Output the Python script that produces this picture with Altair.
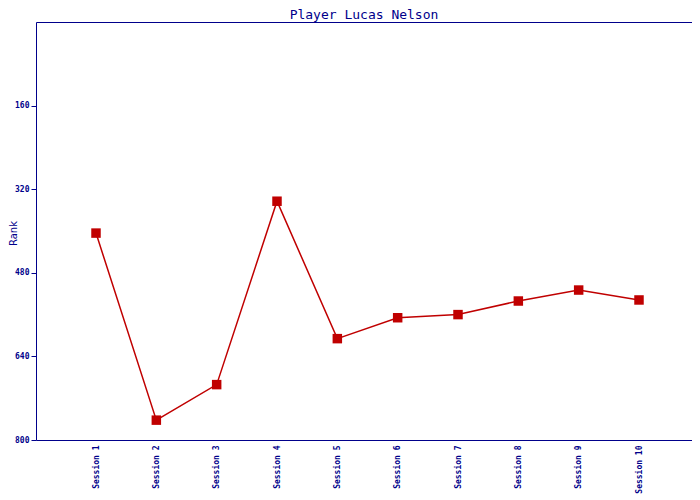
import altair as alt
import pandas as pd

sessions = ["Session 1", "Session 2", "Session 3", "Session 4", "Session 5",
            "Session 6", "Session 7", "Session 8", "Session 9", "Session 10"]
ranks = [404, 762, 694, 343, 606, 566, 560, 534, 513, 532]
y_ticks = [160, 320, 480, 640, 800]

df = pd.DataFrame({"session": sessions, "rank": ranks})

navy = "#00008b"
red = "#c00000"
mono = "DejaVu Sans Mono"

x = alt.X("session:N", sort=sessions, title=None,
          scale=alt.Scale(range=[60, 603], padding=0),
          axis=alt.Axis(labelAngle=270, labelAlign="right", labelBaseline="middle",
                        ticks=False, domain=False, labelColor=navy,
                        labelFont=mono, labelFontSize=8, labelFontWeight="bold",
                        labelPadding=5))
y = alt.Y("rank:Q", title="Rank",
          scale=alt.Scale(domain=[0, 800], reverse=True, nice=False),
          axis=alt.Axis(values=y_ticks, grid=False, domain=False, tickColor=navy,
                        tickSize=5, labelColor=navy, labelFont=mono, labelFontSize=8,
                        labelFontWeight="bold", titleColor=navy, titleFont="DejaVu Sans",
                        titleFontSize=10, titleFontWeight="normal", labelPadding=2,
                        titleX=-18, titleY=211, titleAngle=270, titleBaseline="bottom",
                        titleAlign="center"))

line = alt.Chart(df).mark_line(color=red, strokeWidth=1.5).encode(x=x, y=y)
pts = alt.Chart(df).mark_point(shape="square", filled=True, size=90, color=red,
                               opacity=1).encode(x=x, y=y)

chart = (line + pts).properties(
    width=656, height=418,
    background="white",
    title=alt.TitleParams("Player Lucas Nelson", color=navy, font=mono, fontSize=13,
                          fontWeight="normal", offset=0),
    autosize=alt.AutoSizeParams(type="none"),
    padding={"left": 28, "top": 14, "right": 0, "bottom": 58},
).configure_view(stroke=navy, strokeWidth=1)

chart.save("out.html", embed_options={"renderer": "svg", "actions": False})
